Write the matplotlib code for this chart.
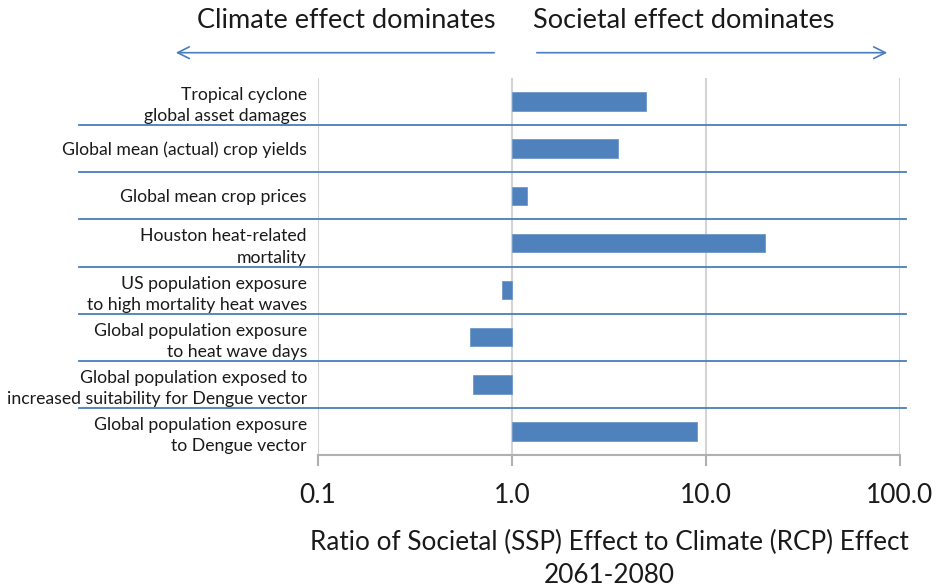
import matplotlib
matplotlib.use("Agg")
import matplotlib.pyplot as plt
import matplotlib.transforms as mtransforms

plt.rcParams['font.family'] = ['Lato', 'DejaVu Sans']

categories = [
    "Tropical cyclone\nglobal asset damages",
    "Global mean (actual) crop yields",
    "Global mean crop prices",
    "Houston heat-related\nmortality",
    "US population exposure\nto high mortality heat waves",
    "Global population exposure\nto heat wave days",
    "Global population exposed to\nincreased suitability for Dengue vector",
    "Global population exposure\nto Dengue vector",
]
ratios = [4.9, 3.5, 1.2, 20.2, 0.89, 0.61, 0.63, 9.0]
tick_values = [0.1, 1, 10, 100]
tick_labels = ["0.1", "1.0", "10.0", "100.0"]
xlabel = "Ratio of Societal (SSP) Effect to Climate (RCP) Effect\n2061-2080"
left_title = "Climate effect dominates"
right_title = "Societal effect dominates"

W, H = 936, 587
fig = plt.figure(figsize=(W / 100, H / 100), dpi=100)
ax = fig.add_axes([318 / W, 1 - 455 / H, 582 / W, 377 / H])

bar_color = "#4f81bd"
line_color = "#4a7ebb"
text_color = "#1a1a1a"
grid_color = "#d4d4d4"

ypos = list(range(len(categories)))
lefts = [min(r, 1.0) for r in ratios]
widths = [abs(r - 1.0) for r in ratios]
ax.barh(ypos, widths, left=lefts, height=0.39, color=bar_color,
        edgecolor="#6f97c8", linewidth=0.6, zorder=3)

ax.set_xscale("log")
ax.set_xlim(0.1, 100)
ax.set_ylim(len(categories) - 0.5, -0.5)
ax.set_xticks(tick_values)
ax.set_xticklabels(tick_labels)
ax.minorticks_off()
ax.xaxis.set_minor_locator(matplotlib.ticker.NullLocator())
ax.set_yticks(ypos)
ax.set_yticklabels(categories, fontsize=12.7, color=text_color, linespacing=1.4)
ax.grid(axis="x", color=grid_color, linewidth=1.5, zorder=0)
for s in ["top", "right", "left"]:
    ax.spines[s].set_visible(False)
ax.spines["bottom"].set_color("#b0b0b0")
ax.spines["bottom"].set_linewidth(1.5)
ax.tick_params(axis="x", direction="out", length=8, width=1.5, color="#b0b0b0",
               labelsize=19, labelcolor=text_color, pad=12)
ax.tick_params(axis="y", length=0, pad=8)
ax.set_xlabel(xlabel, fontsize=18.8, color=text_color, labelpad=16, linespacing=1.42)

# separators between categories
trans = mtransforms.blended_transform_factory(fig.transFigure, ax.transData)
for i in range(len(categories) - 1):
    ax.plot([79 / W, 906 / W], [i + 0.5, i + 0.5], transform=trans, color=line_color,
            linewidth=1.3, clip_on=False, zorder=4)

# header titles and arrows
ty = 1 - 21 / H
fig.text(346 / W, ty, left_title, ha="center", va="center", fontsize=19.5, color=text_color)
fig.text(684 / W, ty, right_title, ha="center", va="center", fontsize=19.5, color=text_color)
ay = 1 - 52.7 / H
arrow_kw = dict(arrowstyle="->,head_length=0.7,head_width=0.35", color=line_color, lw=1.2)
fig.add_artist(matplotlib.patches.FancyArrowPatch((497 / W, ay), (173 / W, ay),
               transform=fig.transFigure, mutation_scale=12, **arrow_kw))
fig.add_artist(matplotlib.patches.FancyArrowPatch((534 / W, ay), (890 / W, ay),
               transform=fig.transFigure, mutation_scale=12, **arrow_kw))

fig.savefig("out.png", dpi=100)
